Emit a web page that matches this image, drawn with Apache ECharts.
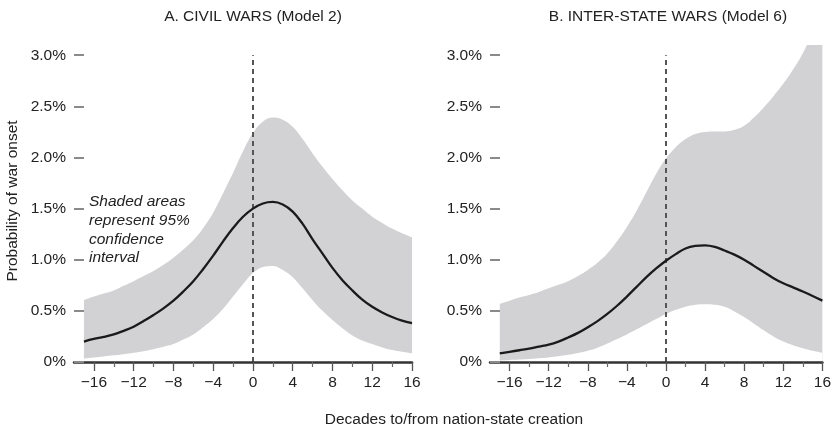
<!DOCTYPE html>
<html><head><meta charset="utf-8">
<script src="https://cdn.jsdelivr.net/npm/echarts@6/dist/echarts.min.js"></script>
<style>html,body{margin:0;padding:0;background:#fff}#c{width:834px;height:432px}</style>
</head><body><div id="c"></div>
<script>
const decades = [-17,-16,-15,-14,-13,-12,-11,-10,-9,-8,-7,-6,-5,-4,-3,-2,-1,0,1,2,3,4,5,6,7,8,9,10,11,12,13,14,15,16];
const civilMean  = [0.20,0.225,0.245,0.27,0.305,0.345,0.40,0.46,0.525,0.60,0.69,0.79,0.91,1.04,1.18,1.31,1.42,1.50,1.55,1.565,1.54,1.47,1.35,1.20,1.06,0.92,0.80,0.70,0.61,0.54,0.485,0.44,0.405,0.38];
const civilUpper = [0.605,0.64,0.67,0.70,0.745,0.79,0.84,0.89,0.95,1.02,1.10,1.19,1.31,1.46,1.65,1.85,2.06,2.24,2.35,2.39,2.37,2.30,2.18,2.04,1.91,1.79,1.68,1.58,1.50,1.42,1.36,1.305,1.26,1.22];
const civilLower = [0.035,0.045,0.055,0.065,0.077,0.09,0.105,0.125,0.148,0.175,0.22,0.27,0.34,0.42,0.52,0.64,0.76,0.87,0.93,0.94,0.90,0.83,0.72,0.605,0.50,0.41,0.33,0.26,0.21,0.175,0.143,0.117,0.10,0.085];
const interMean  = [0.085,0.10,0.115,0.13,0.15,0.17,0.20,0.24,0.285,0.34,0.40,0.47,0.55,0.64,0.735,0.83,0.915,0.99,1.055,1.11,1.135,1.14,1.125,1.09,1.05,1.00,0.94,0.88,0.82,0.77,0.73,0.69,0.645,0.60];
const interUpper = [0.57,0.60,0.63,0.655,0.685,0.72,0.755,0.79,0.84,0.90,0.97,1.06,1.18,1.32,1.48,1.66,1.84,1.99,2.10,2.18,2.23,2.25,2.255,2.255,2.27,2.31,2.39,2.49,2.60,2.72,2.86,3.02,3.22,3.45];
const interLower = [0.015,0.02,0.025,0.03,0.037,0.045,0.056,0.07,0.088,0.11,0.14,0.18,0.225,0.27,0.32,0.37,0.42,0.47,0.51,0.54,0.56,0.565,0.56,0.54,0.495,0.44,0.375,0.31,0.25,0.20,0.165,0.135,0.11,0.09];
const yTicks = [0,0.5,1.0,1.5,2.0,2.5,3.0];
const xMajorTicks = [-16,-12,-8,-4,0,4,8,12,16];
const xMinorTicks = [-14,-10,-6,-2,2,6,10,14];
const titles = ['A. CIVIL WARS (Model 2)','B. INTER-STATE WARS (Model 6)'];
const yName = 'Probability of war onset';
const xName = 'Decades to/from nation-state creation';
const note = 'Shaded areas\nrepresent 95%\nconfidence\ninterval';

const FONT = '"Liberation Sans", Arial, Helvetica, sans-serif';
const FS = 15.5;
const pairs = (ys) => decades.map((d, i) => [d, ys[i]]);
const minus = (v) => String(v).replace('-', '\u2212');

function xAxes(g) {
  return [
    { type:'value', gridIndex:g, min:-18, max:16, position:'bottom', z:10,
      axisLine:{show:true, onZero:false, lineStyle:{color:'#333', width:2.5}},
      axisTick:{show:true, customValues:xMajorTicks, length:9, lineStyle:{color:'#555', width:1.3}},
      axisLabel:{customValues:xMajorTicks, formatter:minus, margin:13, color:'#222', fontSize:FS, fontFamily:FONT},
      splitLine:{show:false} },
    { type:'value', gridIndex:g, min:-18, max:16, position:'bottom', z:10,
      axisLine:{show:false, onZero:false},
      axisTick:{show:true, customValues:xMinorTicks, length:5, lineStyle:{color:'#666', width:1.2}},
      axisLabel:{show:false},
      splitLine:{show:false} }
  ];
}
function yAxis(g) {
  return { type:'value', gridIndex:g, min:0, max:3.1, z:10, position:'left',
    axisLine:{show:false, onZero:false},
    axisTick:{show:true, inside:true, customValues:yTicks, length:10, lineStyle:{color:'#8a8a8a', width:2}},
    axisLabel:{customValues:yTicks, margin:8, color:'#222', fontSize:FS, fontFamily:FONT,
      formatter:(v)=> v === 0 ? '0%' : v.toFixed(1) + '%'},
    splitLine:{show:false} };
}
const SM = {smooth:0.4};
function panel(g, upper, lower, mean) {
  const xi = g * 2;
  return [
    { type:'line', xAxisIndex:xi, yAxisIndex:g, data:pairs(upper), ...SM, showSymbol:false, silent:true,
      lineStyle:{width:0}, areaStyle:{color:'#d2d2d4', opacity:1}, z:2 },
    { type:'line', xAxisIndex:xi, yAxisIndex:g, data:pairs(lower), ...SM, showSymbol:false, silent:true,
      lineStyle:{width:0}, areaStyle:{color:'#ffffff', opacity:1}, z:3 },
    { type:'line', xAxisIndex:xi, yAxisIndex:g, data:pairs(mean), ...SM, showSymbol:false,
      lineStyle:{color:'#1a1a1a', width:2.3}, z:5,
      markLine:{ silent:true, symbol:'none', label:{show:false},
        lineStyle:{color:'#555', width:2, type:[5,4]},
        data:[[{coord:[0,0]},{coord:[0,3.0]}]] } }
  ];
}

const chart = echarts.init(document.getElementById('c'), null, {renderer:'canvas'});
chart.setOption({
  animation:false,
  backgroundColor:'#fff',
  grid:[
    {left:74, top:45, width:338, height:317},
    {left:490, top:45, width:339, height:317}
  ],
  xAxis:[...xAxes(0), ...xAxes(1)],
  yAxis:[yAxis(0), yAxis(1)],
  series:[...panel(0, civilUpper, civilLower, civilMean), ...panel(1, interUpper, interLower, interMean)],
  graphic:[
    {type:'text', x:253, y:17, style:{text:titles[0], font:`${FS}px ${FONT}`, fill:'#222', textAlign:'center', textVerticalAlign:'middle'}},
    {type:'text', x:668, y:17, style:{text:titles[1], font:`${FS}px ${FONT}`, fill:'#222', textAlign:'center', textVerticalAlign:'middle'}},
    {type:'text', x:13, y:201, rotation:Math.PI/2, style:{text:yName, font:`${FS}px ${FONT}`, fill:'#222', textAlign:'center', textVerticalAlign:'middle'}},
    {type:'text', x:454, y:420, style:{text:xName, font:`${FS}px ${FONT}`, fill:'#222', textAlign:'center', textVerticalAlign:'middle'}},
    {type:'text', x:89, y:192.5, z:20, style:{text:note, font:`italic ${FS}px ${FONT}`, lineHeight:18.7, fill:'#222', textAlign:'left', textVerticalAlign:'top'}}
  ]
});
</script></body></html>
